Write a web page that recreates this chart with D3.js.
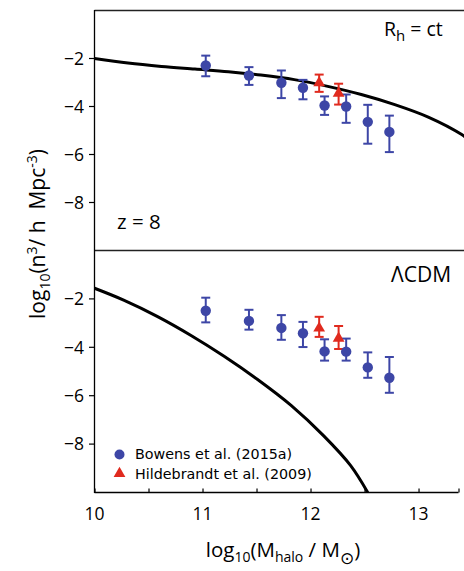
<!DOCTYPE html>
<html>
<head>
<meta charset="utf-8">
<script src="https://cdn.jsdelivr.net/npm/d3@7"></script>
<style>
html,body{margin:0;padding:0;background:#fff;}
svg{display:block;}
</style>
</head>
<body>
<svg id="chart" width="464" height="571"></svg>
<script>
// ---- data ----
const xTicks = [10, 11, 12, 13];
const xMinorTicks = [10.5, 11.5, 12.5];
const yTicks = [-2, -4, -6, -8];

// Rh = ct model curve (top panel)
const rhM = [10.0, 10.31, 10.62, 10.93, 11.24, 11.54, 11.85, 12.16, 12.47, 12.78, 13.09, 13.40, 13.46];
const rhN = [-2.0, -2.19, -2.33, -2.44, -2.55, -2.69, -2.88, -3.16, -3.50, -3.92, -4.44, -5.17, -5.38];

// LCDM model curve (bottom panel)
const lcdmM = [10.0, 10.27, 10.58, 10.89, 11.20, 11.51, 11.82, 12.12, 12.37, 12.53];
const lcdmN = [-1.56, -2.05, -2.72, -3.50, -4.37, -5.33, -6.40, -7.65, -8.88, -10.0];

// Bowens et al. (2015a)
const bowensM = [11.03, 11.43, 11.73, 11.93, 12.13, 12.33, 12.53, 12.73];
const bowensTop = [-2.29, -2.71, -3.01, -3.22, -3.96, -4.00, -4.64, -5.06];
const bowensTopHi = [-1.88, -2.36, -2.50, -2.89, -3.58, -3.50, -3.93, -4.38];
const bowensTopLo = [-2.74, -3.10, -3.65, -3.70, -4.35, -4.68, -5.55, -5.90];
const bowensBot = [-2.49, -2.91, -3.20, -3.42, -4.17, -4.18, -4.83, -5.26];
const bowensBotHi = [-1.95, -2.45, -2.67, -2.95, -3.67, -3.64, -4.21, -4.40];
const bowensBotLo = [-2.97, -3.27, -3.69, -3.99, -4.55, -4.55, -5.26, -5.88];

// Hildebrandt et al. (2009)
const hildM = [12.08, 12.26];
const hildTop = [-3.01, -3.45];
const hildTopHi = [-2.67, -3.05];
const hildTopLo = [-3.39, -3.92];
const hildBot = [-3.21, -3.63];
const hildBotHi = [-2.74, -3.12];
const hildBotLo = [-3.57, -4.07];

const legendLabels = ["Bowens et al. (2015a)", "Hildebrandt et al. (2009)"];

// ---- drawing ----
const BLUE = "#3d46a6", RED = "#e02a1e";
const svg = d3.select("#chart");
const x = d3.scaleLinear().domain([10, 13.37]).range([94.5, 458.5]);
const yTop = d3.scaleLinear().domain([-10, 0]).range([250.5, 10.5]);
const yBot = d3.scaleLinear().domain([-10, 0]).range([492.5, 250.5]);
const tickFont = "'Open Sans', sans-serif";

const defs = svg.append("defs");
defs.append("clipPath").attr("id", "clipTop").append("rect")
  .attr("x", 94.5).attr("y", 10.5).attr("width", 400).attr("height", 240);
defs.append("clipPath").attr("id", "clipBot").append("rect")
  .attr("x", 94.5).attr("y", 250.5).attr("width", 400).attr("height", 242);

function panel(y, clipId, curveM, curveN, bM, bV, bHi, bLo, hM, hV, hHi, hLo) {
  const g = svg.append("g");
  const pts = curveM.map((m, i) => [m, curveN[i]]);
  g.append("path")
    .attr("clip-path", `url(#${clipId})`)
    .attr("d", d3.line().x(d => x(d[0])).y(d => y(d[1])).curve(d3.curveCatmullRom.alpha(0.5))(pts))
    .attr("fill", "none").attr("stroke", "#000").attr("stroke-width", 3);
  yTicks.forEach(t => {
    g.append("line").attr("x1", 89).attr("x2", 94.5).attr("y1", y(t)).attr("y2", y(t))
      .attr("stroke", "#000").attr("stroke-width", 1.2);
    g.append("text").attr("x", 84).attr("y", y(t)).attr("dy", "0.36em")
      .attr("text-anchor", "end").attr("font-family", tickFont).attr("font-size", 17.5)
      .text("\u2212" + Math.abs(t));
  });
  function errbars(ms, hi, lo, color) {
    ms.forEach((m, i) => {
      const cx = x(m);
      g.append("line").attr("x1", cx).attr("x2", cx).attr("y1", y(hi[i])).attr("y2", y(lo[i]))
        .attr("stroke", color).attr("stroke-width", 2);
      [hi[i], lo[i]].forEach(v => {
        g.append("line").attr("x1", cx - 4.5).attr("x2", cx + 4.5).attr("y1", y(v)).attr("y2", y(v))
          .attr("stroke", color).attr("stroke-width", 2);
      });
    });
  }
  errbars(bM, bHi, bLo, BLUE);
  errbars(hM, hHi, hLo, RED);
  bM.forEach((m, i) => {
    g.append("circle").attr("cx", x(m)).attr("cy", y(bV[i])).attr("r", 5.2).attr("fill", BLUE);
  });
  const tri = d3.symbol().type(d3.symbolTriangle).size(60);
  hM.forEach((m, i) => {
    g.append("path").attr("d", tri()).attr("transform", `translate(${x(m)},${y(hV[i])})`).attr("fill", RED);
  });
}

panel(yTop, "clipTop", rhM, rhN, bowensM, bowensTop, bowensTopHi, bowensTopLo, hildM, hildTop, hildTopHi, hildTopLo);
panel(yBot, "clipBot", lcdmM, lcdmN, bowensM, bowensBot, bowensBotHi, bowensBotLo, hildM, hildBot, hildBotHi, hildBotLo);

// frame lines
svg.append("line").attr("x1", 94.5).attr("x2", 464).attr("y1", 10.5).attr("y2", 10.5).attr("stroke", "#222").attr("stroke-width", 1.3);
svg.append("line").attr("x1", 94.5).attr("x2", 464).attr("y1", 250.5).attr("y2", 250.5).attr("stroke", "#222").attr("stroke-width", 1.3);
svg.append("line").attr("x1", 94.5).attr("x2", 94.5).attr("y1", 10).attr("y2", 493).attr("stroke", "#000").attr("stroke-width", 1.3);

// x axis
const xAxis = d3.axisBottom(x).tickValues(xTicks.concat(xMinorTicks, [13.37])).tickSize(-4).tickFormat("");
const ax = svg.append("g").attr("transform", "translate(0,492.5)").call(xAxis);
ax.select(".domain").attr("stroke", "#000").attr("stroke-width", 1.3).attr("d", `M94.5,0H458.5`);
ax.selectAll(".tick line").attr("stroke", "#000").attr("stroke-width", 1.2);
xTicks.forEach(t => {
  svg.append("text").attr("x", x(t)).attr("y", 520).attr("text-anchor", "middle")
    .attr("font-family", tickFont).attr("font-size", 17.5).text(t);
});

// axis titles
const xt = svg.append("text").attr("x", 283).attr("y", 557).attr("text-anchor", "middle")
  .attr("font-family", tickFont).attr("font-size", 20.5);
xt.append("tspan").text("log");
xt.append("tspan").attr("dy", 5).attr("font-size", 14).text("10");
xt.append("tspan").attr("dy", -5).text("(M");
xt.append("tspan").attr("dy", 5).attr("font-size", 14).text("halo");
xt.append("tspan").attr("dy", -5).text("\u00A0/ M");
xt.append("tspan").attr("dy", 7).attr("font-size", 17).attr("font-family", "'DejaVu Sans'").text("\u2299");
xt.append("tspan").attr("dy", -7).text(")");

const yt = svg.append("text").attr("transform", "translate(45,234) rotate(-90)").attr("text-anchor", "middle")
  .attr("font-family", tickFont).attr("font-size", 21);
yt.append("tspan").text("log");
yt.append("tspan").attr("dy", 5).attr("font-size", 14).text("10");
yt.append("tspan").attr("dy", -5).text("(n");
yt.append("tspan").attr("dy", -8).attr("font-size", 14).text("3");
yt.append("tspan").attr("dy", 8).text("/ h\u00A0\u00A0Mpc");
yt.append("tspan").attr("dy", -8).attr("font-size", 14).text("-3");
yt.append("tspan").attr("dy", 8).text(")");

// panel labels
const rh = svg.append("text").attr("x", 384).attr("y", 36).attr("font-family", tickFont).attr("font-size", 19.5);
rh.append("tspan").text("R");
rh.append("tspan").attr("dy", 5).attr("font-size", 15).text("h");
rh.append("tspan").attr("dy", -5).text("\u00A0= ct");
svg.append("text").attr("x", 117).attr("y", 229).attr("font-family", tickFont).attr("font-size", 20.5).text("z = 8");
svg.append("text").attr("x", 391).attr("y", 282).attr("font-family", tickFont).attr("font-size", 21).text("\u039BCDM");

// legend
svg.append("circle").attr("cx", 119.5).attr("cy", 454.5).attr("r", 5).attr("fill", BLUE);
svg.append("path").attr("d", d3.symbol().type(d3.symbolTriangle).size(60)()).attr("transform", "translate(119.5,473.5)").attr("fill", RED);
svg.append("text").attr("x", 135).attr("y", 458.5).attr("font-family", "'DejaVu Sans'").attr("font-size", 14.3).text(legendLabels[0]);
svg.append("text").attr("x", 135).attr("y", 478.5).attr("font-family", "'DejaVu Sans'").attr("font-size", 14.3).text(legendLabels[1]);
</script>
</body>
</html>
